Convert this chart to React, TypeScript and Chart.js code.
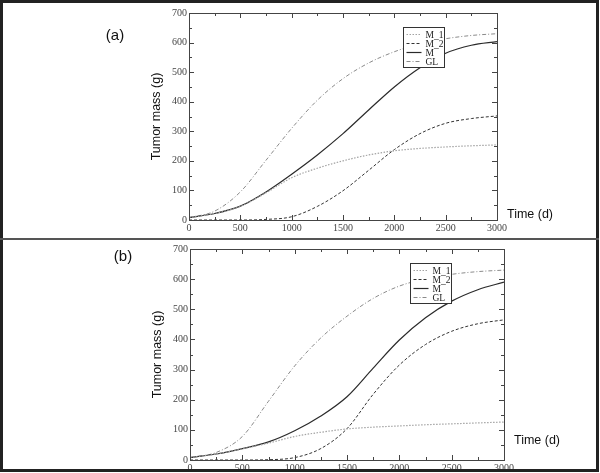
import React, { useEffect, useRef } from "react";
import { Chart, registerables } from "chart.js";

Chart.register(...registerables);

// ---- data ----
const TIME = [0, 250, 500, 750, 1000, 1250, 1500, 1750, 2000, 2250, 2500, 2750, 3000];
const X_TICKS = [0, 500, 1000, 1500, 2000, 2500, 3000];
const Y_TICKS = [0, 100, 200, 300, 400, 500, 600, 700];
const SERIES_NAMES = ["M_1", "M_2", "M", "GL"];

const A_M1 = [8, 22, 46, 92, 143, 175, 200, 220, 234, 242, 247, 251, 254];
const A_M2 = [0, 0, 0, 2, 11, 46, 99, 168, 238, 292, 327, 343, 352];
const A_M = [8, 22, 47, 95, 155, 220, 292, 372, 450, 515, 564, 591, 603];
const A_GL = [8, 30, 95, 202, 310, 405, 478, 531, 569, 596, 613, 624, 630];

const B_M1 = [8, 20, 37, 56, 78, 92, 103, 109, 113, 117, 120, 123, 126];
const B_M2 = [0, 0, 0, 1, 8, 38, 104, 218, 315, 383, 427, 452, 465];
const B_M = [8, 20, 38, 60, 97, 146, 210, 305, 398, 472, 527, 565, 590];
const B_GL = [8, 25, 78, 195, 312, 405, 477, 536, 577, 601, 616, 625, 630];

// ---- styles ----
const LINE_STYLES = [
  { color: "#a3a3a3", dash: [1.5, 1.5], width: 1.2 },
  { color: "#333333", dash: [3, 2], width: 1 },
  { color: "#2a2a2a", dash: [], width: 1.2 },
  { color: "#8a8a8a", dash: [4, 2, 1, 2], width: 1 },
];

const SERIF = "'Liberation Serif', 'Times New Roman', serif";
const SANS = "'Liberation Sans', Arial, sans-serif";

type Area = { left: number; right: number; top: number; bottom: number };

const frameAndLegend = {
  id: "frameAndLegend",
  afterDatasetsDraw(chart: any) {
    const { ctx, chartArea } = chart;
    const xs = chart.scales.x;
    const ys = chart.scales.y;
    const L = chartArea.left, R = chartArea.right, T = chartArea.top, B = chartArea.bottom;
    ctx.save();
    ctx.setLineDash([]);
    ctx.strokeStyle = "#444";
    ctx.lineWidth = 1;
    ctx.strokeRect(Math.round(L) + 0.5, Math.round(T) + 0.5, Math.round(R - L), Math.round(B - T));
    const tick = (x1: number, y1: number, x2: number, y2: number) => {
      ctx.beginPath();
      ctx.moveTo(x1, y1);
      ctx.lineTo(x2, y2);
      ctx.stroke();
    };
    for (let i = 0; i < X_TICKS.length; i++) {
      const vals: [number, number][] = [[X_TICKS[i], 5]];
      if (i < X_TICKS.length - 1) vals.push([(X_TICKS[i] + X_TICKS[i + 1]) / 2, 3]);
      for (const [v, len] of vals) {
        const px = Math.round(xs.getPixelForValue(v)) + 0.5;
        tick(px, B, px, B - len);
        tick(px, T, px, T + len);
      }
    }
    for (let i = 0; i < Y_TICKS.length; i++) {
      const vals: [number, number][] = [[Y_TICKS[i], 5]];
      if (i < Y_TICKS.length - 1) vals.push([(Y_TICKS[i] + Y_TICKS[i + 1]) / 2, 3]);
      for (const [v, len] of vals) {
        const py = Math.round(ys.getPixelForValue(v)) + 0.5;
        tick(L, py, L + len, py);
        tick(R, py, R - len, py);
      }
    }
    // legend box
    const x0 = Math.round(R - 94) + 0.5;
    const y0 = Math.round(T + 14) + 0.5;
    const w = 41, h = 40;
    ctx.fillStyle = "#fff";
    ctx.fillRect(x0, y0, w, h);
    ctx.strokeStyle = "#333";
    ctx.strokeRect(x0, y0, w, h);
    ctx.font = `9.5px ${SERIF}`;
    ctx.textBaseline = "middle";
    ctx.textAlign = "left";
    chart.data.datasets.forEach((ds: any, i: number) => {
      const y = Math.round(y0 + 6 + i * 9.2) + 0.5;
      ctx.strokeStyle = ds.borderColor;
      ctx.lineWidth = ds.borderWidth;
      ctx.setLineDash(ds.borderDash || []);
      tick(x0 + 3, y, x0 + 18, y);
      ctx.setLineDash([]);
      ctx.fillStyle = "#222";
      ctx.fillText(ds.label, x0 + 22, y + 0.5);
    });
    ctx.restore();
  },
};

function buildChart(canvas: HTMLCanvasElement, height: number, area: Area, titleX: number, series: number[][]) {
  return new Chart(canvas, {
    type: "line",
    data: {
      datasets: series.map((vals, i) => ({
        label: SERIES_NAMES[i],
        data: TIME.map((t, k) => ({ x: t, y: vals[k] })),
        borderColor: LINE_STYLES[i].color,
        borderDash: LINE_STYLES[i].dash,
        borderWidth: LINE_STYLES[i].width,
        pointRadius: 0,
        fill: false,
        cubicInterpolationMode: "monotone",
      })),
    },
    options: {
      responsive: false,
      animation: false,
      events: [],
      layout: { padding: { left: 0, top: area.top, right: 600 - area.right, bottom: 0 } },
      plugins: { legend: { display: false }, tooltip: { enabled: false } },
      scales: {
        x: {
          type: "linear",
          min: 0,
          max: 3000,
          afterBuildTicks: (s: any) => {
            s.ticks = X_TICKS.map((v) => ({ value: v }));
          },
          afterFit: (s: any) => {
            s.height = height - area.bottom;
          },
          grid: { display: false, drawTicks: false },
          border: { display: false },
          ticks: {
            padding: 2,
            autoSkip: false,
            maxRotation: 0,
            color: "#444",
            font: { family: SERIF, size: 10 },
            callback: (v: any) => String(v),
          },
        },
        y: {
          type: "linear",
          min: 0,
          max: 700,
          afterBuildTicks: (s: any) => {
            s.ticks = Y_TICKS.map((v) => ({ value: v }));
          },
          afterFit: (s: any) => {
            s.width = area.left;
          },
          grid: { display: false, drawTicks: false },
          border: { display: false },
          ticks: { padding: 2, color: "#444", font: { family: SERIF, size: 10 }, callback: (v: any) => String(v) },
          title: {
            display: true,
            text: "Tumor mass (g)",
            color: "#111",
            font: { family: SANS, size: 12.5 },
            padding: { top: titleX - 7.5, bottom: 0 },
          },
        },
      },
    },
    plugins: [frameAndLegend],
  } as any);
}

export default function App() {
  const refA = useRef<HTMLCanvasElement>(null);
  const refB = useRef<HTMLCanvasElement>(null);

  useEffect(() => {
    const a = buildChart(refA.current!, 238, { left: 189, right: 497, top: 13, bottom: 220 }, 157, [A_M1, A_M2, A_M, A_GL]);
    const b = buildChart(refB.current!, 233, { left: 190, right: 504, top: 9, bottom: 220 }, 158, [B_M1, B_M2, B_M, B_GL]);
    return () => {
      a.destroy();
      b.destroy();
    };
  }, []);

  const label = (text: string, x: number, y: number, size: number) => (
    <div
      style={{
        position: "absolute",
        left: x,
        top: y,
        transform: "translate(-50%, -50%)",
        fontFamily: SANS,
        fontSize: size,
        lineHeight: 1,
        color: "#111",
        whiteSpace: "nowrap",
      }}
    >
      {text}
    </div>
  );

  return (
    <div style={{ position: "absolute", left: 0, top: 0, width: 600, height: 473, background: "#fff", overflow: "hidden" }}>
      <canvas ref={refA} width={600} height={238} style={{ position: "absolute", left: 0, top: 0 }} />
      <canvas ref={refB} width={600} height={233} style={{ position: "absolute", left: 0, top: 240 }} />
      <div
        style={{
          position: "absolute",
          left: 0,
          top: 0,
          width: 599,
          height: 472,
          border: "3px solid #222",
          boxSizing: "border-box",
          pointerEvents: "none",
        }}
      />
      <div style={{ position: "absolute", left: 0, top: 238, width: 599, height: 2, background: "#555" }} />
      {label("(a)", 115, 34, 15)}
      {label("(b)", 123, 255, 15)}
      {label("Time (d)", 530, 214, 12.5)}
      {label("Time (d)", 537, 440, 12.5)}
    </div>
  );
}
